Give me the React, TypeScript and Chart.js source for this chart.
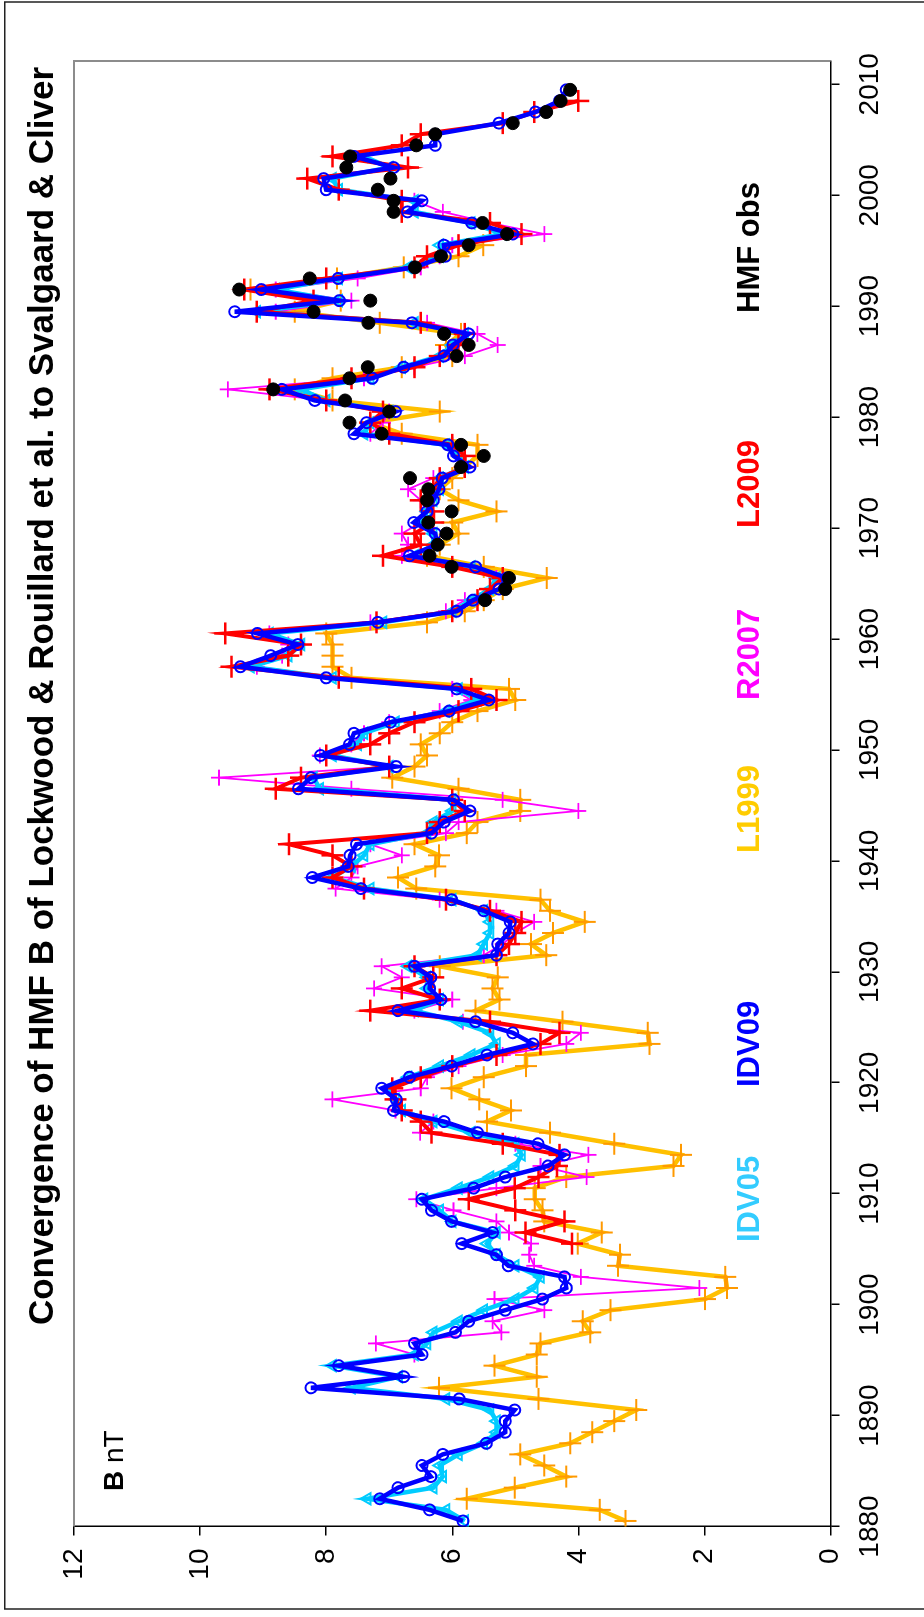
import React, { useEffect, useRef } from "react";
import { Chart, registerables } from "chart.js";

Chart.register(...registerables);

// ---- data: annual mean heliospheric magnetic field B (nT) ----
const YEAR_TICKS = [1880, 1890, 1900, 1910, 1920, 1930, 1940, 1950, 1960, 1970, 1980, 1990, 2000, 2010];
const B_TICKS = [0, 2, 4, 6, 8, 10, 12];

const IDV09_START = 1880;
const IDV09 = [
  5.83, 6.36, 7.15, 6.86, 6.34, 6.48, 6.15, 5.46, 5.16, 5.16,
  5.01, 5.89, 8.24, 6.77, 7.8, 6.48, 6.6, 5.95, 5.74, 5.16,
  4.57, 4.19, 4.22, 5.11, 5.3, 5.85, 5.36, 6.01, 6.33, 6.48,
  5.66, 5.16, 4.48, 4.22, 4.64, 5.6, 6.13, 6.93, 6.89, 7.12,
  6.68, 6.01, 5.45, 4.72, 5.04, 5.63, 6.86, 6.18, 6.36, 6.34,
  6.6, 5.3, 5.28, 5.1, 5.08, 5.5, 6.01, 7.45, 8.22, 7.65,
  7.62, 7.52, 6.33, 6.13, 5.72, 5.98, 8.44, 8.24, 6.89, 8.09,
  7.63, 7.56, 6.98, 6.05, 5.42, 5.93, 8.0, 9.36, 8.88, 8.45,
  9.09, 7.18, 5.93, 5.67, 5.26, 5.13, 5.63, 6.68, 6.24, 6.27,
  6.61, 6.4, 6.3, 6.21, 6.16, 5.72, 5.98, 6.07, 7.56, 7.36,
  6.9, 8.18, 8.7, 7.27, 6.77, 6.13, 5.99, 5.74, 6.64, 9.45,
  7.79, 9.03, 7.81, 6.6, 6.11, 6.13, 5.04, 5.69, 6.71, 6.48,
  8.0, 8.04, 6.93, 7.56, 6.27, 6.27, 5.26, 4.68, 4.3, 4.19,
];

const IDV05_START = 1880;
const IDV05 = [
  5.8, 6.1, 7.35, 6.3, 6.15, 6.2, 5.9, 5.5, 5.3, 5.3,
  5.4, 6.1, 7.6, 6.85, 7.9, 6.6, 6.4, 6.3, 5.9, 5.5,
  5.0, 4.7, 4.6, 5.0, 5.3, 5.45, 5.3, 6.0, 6.2, 6.45,
  5.9, 5.4, 5.0, 4.9, 5.0, 5.7, 6.3, 6.8, 6.9, 7.0,
  6.7, 6.2, 5.7, 5.3, 5.4, 5.9, 6.6, 6.2, 6.4, 6.4,
  6.7, 5.6, 5.5, 5.4, 5.4, 5.5, 6.0, 7.3, 7.9, 7.6,
  7.4, 7.3, 6.4, 6.3, 6.0, 6.0, 8.1, 8.2, 7.0, 7.9,
  7.5, 7.4, 6.9, 6.1, 5.6, 5.9, 7.9, 9.2, 8.6, 8.4,
  8.9, 7.1, 6.0, 5.7, 5.4, 5.3, 5.7, 6.6, 6.3, 6.3,
  6.5, 6.4, 6.3, 6.2, 6.2, 5.8, 5.9, 6.1, 7.4, 7.3,
  7.0, 8.0, 8.4, 7.3, 6.8, 6.2, 6.0, 5.8, 6.6, 9.1,
  7.8, 8.8, 7.8, 6.7, 6.2, 6.2, 5.2, 5.7, 6.6, 6.6,
  7.8, 7.9, 7.0, 7.4,
];

const L1999_START = 1880;
const L1999 = [
  3.25, 3.66, 5.77, 5.01, 4.19, 4.54, 4.92, 4.13, 3.78, 3.43,
  3.08, 4.63, 6.21, 4.66, 5.33, 4.66, 4.6, 3.81, 3.93, 3.49,
  1.99, 1.64, 1.67, 3.37, 3.34, 4.01, 3.63, 4.54, 4.57, 4.69,
  4.69, 4.19, 2.49, 2.37, 3.43, 4.45, 5.45, 5.07, 5.57, 6.01,
  5.5, 4.83, 4.83, 2.87, 2.9, 4.25, 5.63, 5.25, 5.36, 5.28,
  6.2, 4.51, 4.75, 4.4, 3.9, 4.45, 4.6, 6.57, 6.86, 6.27,
  6.21, 6.6, 5.77, 5.6, 4.92, 4.92, 5.9, 6.95, 6.6, 6.4,
  6.5, 6.2, 6.0, 5.6, 5.0, 5.1, 7.6, 7.9, 7.9, 7.9,
  8.0, 6.4, 5.8, 5.5, 5.2, 4.5, 5.5, 6.4, 6.2, 5.9,
  6.0, 5.3, 5.9, 6.2, 6.0, 5.8, 5.6, 5.6, 6.8, 7.3,
  6.2, 7.9, 8.5, 7.9, 6.8, 6.0, 6.1, 5.86, 7.15, 8.5,
  7.77, 9.2, 7.83, 6.77, 5.9, 5.51,
];

const R2007_START = 1895;
const R2007 = [
  6.6, 7.21, 5.22, 5.36, 4.54,
  5.33, 2.08, 3.96, 4.7, 4.78, 4.75, 5.1, 5.3, 5.98, 6.57,
  5.3, 3.87, 4.6, 3.84, 5.0, 6.51, 6.3, 6.9, 7.9, 6.5,
  6.4, 5.9, 5.2, 4.19, 3.96, 5.83, 6.6, 6.0, 7.24, 6.8,
  7.12, 5.5, 5.2, 5.0, 4.7, 5.3, 6.2, 7.85, 7.6, 7.5,
  6.8, 7.3, 6.1, 5.9, 4.0, 5.2, 7.6, 9.7, 7.0, 8.1,
  7.6, 7.4, 7.0, 6.2, 5.7, 6.0, 7.8, 9.1, 8.7, 8.6,
  8.9, 7.3, 6.1, 5.8, 5.4, 5.3, 6.0, 6.8, 6.7, 6.8,
  6.5, 6.4, 6.5, 6.7, 6.3, 5.8, 5.9, 6.0, 7.3, 7.1,
  7.0, 8.0, 9.56, 7.4, 6.6, 5.8, 5.28, 5.6, 6.4, 8.8,
  7.6, 8.8, 7.5, 6.5, 6.2, 6.0, 4.54, 5.4, 6.15, 6.6,
];

const L2009_START = 1905;
const L2009 = [
  4.1, 4.84, 4.22, 5.0, 5.74,
  5.01, 4.63, 4.34, 4.3, 5.2, 6.33, 6.5, 6.8, 6.9, 6.95,
  6.5, 6.0, 5.3, 4.6, 4.3, 5.4, 7.3, 6.2, 6.8, 6.3,
  6.6, 5.3, 5.1, 5.0, 4.9, 5.4, 6.1, 7.4, 7.9, 7.6,
  7.9, 8.59, 6.4, 6.2, 5.8, 6.0, 8.8, 8.4, 7.0, 8.0,
  7.3, 7.0, 6.6, 5.9, 5.3, 5.7, 7.8, 9.5, 8.6, 8.4,
  9.6, 7.2, 6.0, 5.6, 5.4, 5.2, 6.0, 7.1, 6.5, 6.6,
  6.3, 6.3, 6.5, 6.3, 6.2, 5.8, 5.8, 6.0, 7.0, 7.3,
  7.1, 8.0, 8.9, 7.6, 6.6, 6.2, 5.9, 5.8, 6.5, 9.1,
  8.2, 9.3, 8.0, 6.6, 6.4, 5.9, 4.9, 5.4, 6.8, 6.8,
  7.8, 8.3, 6.7, 7.9, 6.8, 6.5, 5.2, 4.7, 4.0,
];

const HMF_OBS_START = 1963;
const HMF_OBS = [
  5.48, 5.16, 5.1, 6.01, 6.36, 6.23, 6.09,
  6.38, 6.01, 6.4, 6.38, 6.67, 5.86, 5.5, 5.86, 7.12, 7.63,
  7.0, 7.7, 8.84, 7.63, 7.34, 5.93, 5.74, 6.13, 7.33, 8.2,
  7.3, 9.38, 8.26, 6.59, 6.18, 5.74, 5.13, 5.52, 6.93, 6.93,
  7.18, 6.98, 7.68, 7.62, 6.57, 6.27, 5.04, 4.51, 4.28, 4.13,
];

const TITLE = "Convergence of HMF B of Lockwood & Rouillard et al. to Svalgaard & Cliver";
const SERIES_LABELS = [
  { text: "IDV05", color: "#33CCFF", at: 375 },
  { text: "IDV09", color: "#0000FF", at: 530 },
  { text: "L1999", color: "#FFCC00", at: 764 },
  { text: "R2007", color: "#FF00FF", at: 917 },
  { text: "L2009", color: "#FF0000", at: 1089 },
  { text: "HMF obs", color: "#000000", at: 1304 },
];

const FONT = 'Arial, "Liberation Sans", Helvetica, sans-serif';

// annual means are plotted at mid-year
const toPoints = (start: number, values: number[]) =>
  values.map((v, i) => ({ x: start + i + 0.5, y: v }));

const W = 1617;
const H = 924;

const decorations = {
  id: "decorations",
  afterDraw(chart: any) {
    const { ctx, chartArea } = chart;
    ctx.save();
    // outer frame
    ctx.strokeStyle = "#222";
    ctx.lineWidth = 1.5;
    ctx.beginPath();
    ctx.moveTo(8, H);
    ctx.lineTo(8, 4.7);
    ctx.lineTo(1615, 4.7);
    ctx.lineTo(1615, H);
    ctx.stroke();
    // grey plot border on the two open sides
    ctx.strokeStyle = "#8c8c8c";
    ctx.lineWidth = 2;
    ctx.beginPath();
    ctx.moveTo(chartArea.left, chartArea.top);
    ctx.lineTo(chartArea.right, chartArea.top);
    ctx.lineTo(chartArea.right, chartArea.bottom);
    ctx.stroke();
    // title
    ctx.fillStyle = "#000";
    ctx.textBaseline = "alphabetic";
    ctx.textAlign = "center";
    ctx.font = `bold 35px ${FONT}`;
    ctx.fillText(TITLE, 921, 53);
    // unit label
    ctx.textAlign = "left";
    ctx.font = `bold 28px ${FONT}`;
    ctx.fillText("B", 126, 123);
    const bw = ctx.measureText("B").width;
    ctx.font = `28px ${FONT}`;
    ctx.fillText(" nT", 126 + bw, 123);
    // series labels
    ctx.font = `bold 31px ${FONT}`;
    SERIES_LABELS.forEach((l) => {
      ctx.fillStyle = l.color;
      ctx.fillText(l.text, l.at, 759);
    });
    ctx.restore();
  },
};

export default function App() {
  const ref = useRef<HTMLCanvasElement | null>(null);

  useEffect(() => {
    if (!ref.current) return;
    const chart = new Chart(ref.current, {
      type: "line",
      data: {
        datasets: [
          {
            label: "HMF obs",
            data: toPoints(HMF_OBS_START, HMF_OBS),
            showLine: false,
            pointStyle: "circle",
            pointRadius: 6.5,
            pointBackgroundColor: "#000",
            pointBorderColor: "#000",
            pointBorderWidth: 1,
            borderColor: "#000",
            order: 0,
          },
          {
            label: "IDV09",
            data: toPoints(IDV09_START, IDV09),
            borderColor: "#0000FF",
            borderWidth: 4.5,
            pointStyle: "circle",
            pointRadius: 5.5,
            pointBorderWidth: 2,
            pointBorderColor: "#0000FF",
            pointBackgroundColor: "rgba(0,0,0,0)",
            order: 1,
          },
          {
            label: "L2009",
            data: toPoints(L2009_START, L2009),
            borderColor: "#FF0000",
            borderWidth: 4,
            pointStyle: "cross",
            pointRadius: 11,
            pointBorderWidth: 2.5,
            pointBorderColor: "#FF0000",
            order: 2,
          },
          {
            label: "IDV05",
            data: toPoints(IDV05_START, IDV05),
            borderColor: "#00CCFF",
            borderWidth: 4.5,
            pointStyle: "triangle",
            pointRadius: 6.5,
            pointBorderWidth: 2,
            pointBorderColor: "#00CCFF",
            pointBackgroundColor: "rgba(0,0,0,0)",
            order: 3,
          },
          {
            label: "R2007",
            data: toPoints(R2007_START, R2007),
            borderColor: "#FF00FF",
            borderWidth: 1.8,
            pointStyle: "cross",
            pointRadius: 8,
            pointBorderWidth: 1.8,
            pointBorderColor: "#FF00FF",
            order: 4,
          },
          {
            label: "L1999",
            data: toPoints(L1999_START, L1999),
            borderColor: "#FFC000",
            borderWidth: 4.5,
            pointStyle: "cross",
            pointRadius: 11,
            pointBorderWidth: 2,
            pointBorderColor: "#FF9900",
            order: 5,
          },
        ],
      },
      options: {
        animation: false,
        responsive: false,
        devicePixelRatio: 1,
        layout: { padding: { left: 0, top: 74, right: 61, bottom: 0 } },
        plugins: {
          legend: { display: false },
          tooltip: { enabled: false },
          title: { display: false },
        },
        elements: { line: { tension: 0, fill: false } },
        scales: {
          x: {
            type: "linear",
            min: 1880,
            max: 2012.1,
            afterBuildTicks: (s: any) => {
              s.ticks = YEAR_TICKS.map((v) => ({ value: v }));
            },
            afterFit: (s: any) => {
              s.height = 93.5;
            },
            ticks: {
              autoSkip: false,
              maxRotation: 0,
              padding: 14,
              color: "#000",
              font: { size: 28, family: FONT },
              callback: (v: any) => String(v),
            },
            grid: {
              drawOnChartArea: false,
              drawTicks: true,
              tickLength: 9,
              color: "#000",
              lineWidth: 1.5,
            },
            border: { color: "#000", width: 1.5 },
          },
          y: {
            type: "linear",
            min: 0,
            max: 12,
            afterBuildTicks: (s: any) => {
              s.ticks = B_TICKS.map((v) => ({ value: v }));
            },
            afterFit: (s: any) => {
              s.width = 90.5;
            },
            ticks: {
              padding: 13,
              color: "#000",
              font: { size: 28, family: FONT },
              callback: (v: any) => String(v),
            },
            grid: {
              drawOnChartArea: false,
              drawTicks: true,
              tickLength: 9,
              color: "#000",
              lineWidth: 1.5,
            },
            border: { color: "#000", width: 1.5 },
          },
        },
      },
      plugins: [decorations],
    });
    return () => chart.destroy();
  }, []);

  return (
    <div
      style={{
        position: "absolute",
        left: 0,
        top: 0,
        width: 924,
        height: 1617,
        overflow: "hidden",
        background: "#fff",
      }}
    >
      <div
        style={{
          position: "absolute",
          left: 0,
          top: 0,
          width: W,
          height: H,
          transformOrigin: "0 0",
          transform: `translate(0px, ${W}px) rotate(-90deg)`,
        }}
      >
        <canvas ref={ref} width={W} height={H} style={{ width: W, height: H, display: "block" }} />
      </div>
    </div>
  );
}
